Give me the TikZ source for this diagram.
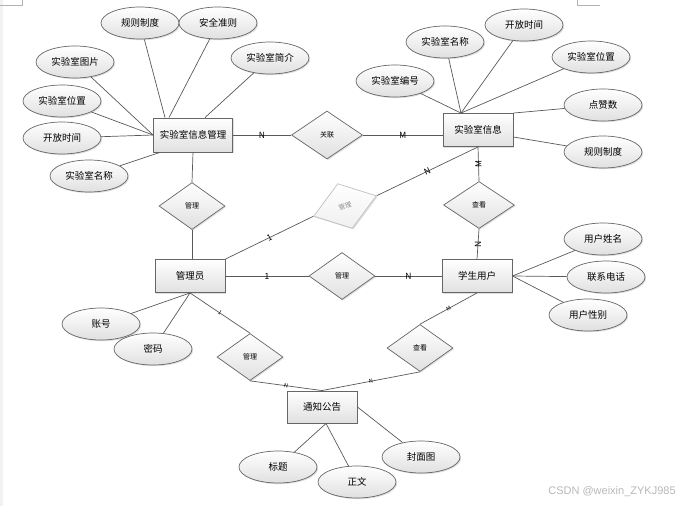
\documentclass[tikz,border=0pt]{standalone}
\usepackage{fontspec}
\setmainfont{Noto Sans CJK SC}
\newfontfamily\markfont{Liberation Sans}
\usetikzlibrary{shapes.geometric,shadows}

\begin{document}
\begin{tikzpicture}[x=1pt,y=-1pt,
        conn/.style={draw=black!65,line width=0.7pt},
        boxfill/.style={top color=white,bottom color=black!12,drop shadow={opacity=0.25,shadow xshift=1.2pt,shadow yshift=-1.2pt}},
        entity/.style={boxfill,rectangle,draw=black!60,line width=0.9pt,minimum width=70pt,minimum height=33pt,inner sep=5pt,font=\fontsize{9.5}{11}\selectfont},
        attr/.style={boxfill,ellipse,draw=black!60,line width=0.7pt,minimum width=78pt,minimum height=32pt,inner sep=0pt,font=\fontsize{9.5}{11}\selectfont},
        rel/.style={boxfill,diamond,draw=black!60,line width=0.7pt,minimum width=66pt,minimum height=47pt,inner sep=0pt,font=\fontsize{7}{8}\selectfont},
        card/.style={font=\fontsize{8.5}{9}\selectfont,inner sep=1pt},
        smallcard/.style={font=\fontsize{5.5}{6}\selectfont,inner sep=0.5pt}]
    \useasboundingbox (0,0) rectangle (692,506);
    \fill[black!5] (0,0) rectangle (3,506);
    \draw[black!30,line width=0.5pt] (0,5) -- (22,5) -- (22,0);
    \draw[black!30,line width=0.5pt] (600,5) -- (577,5) -- (577,0);

    \node[entity,minimum width=79pt,minimum height=34pt] (labmgr) at (193,135) {实验室信息管理};
    \node[entity] (labinfo) at (478,130) {实验室信息};
    \node[entity] (admin) at (190,276) {管理员};
    \node[entity] (student) at (477,276) {学生用户};
    \node[entity,minimum height=32pt] (notice) at (322,407) {通知公告};

    \node[rel,minimum width=71pt,minimum height=48pt] (assoc) at (327,135) {关联};
    \node[rel] (mgrA) at (192,206) {管理};
    \node[rel] (mgrB) at (342,276) {管理};
    \node[rel] (mgrC) at (250,357) {管理};
    \node[rel,minimum width=71pt] (viewA) at (479,205) {查看};
    \node[rel] (viewB) at (420,348) {查看};
    \node[rel,rotate=18,draw=black!25,bottom color=black!6,text=black!45,font=\fontsize{6.5}{7}\selectfont] (mgrD) at (345,206) {管理};

    \node[attr] (rule1) at (140,23) {规则制度};
    \node[attr] (safe) at (218,23) {安全准则};
    \node[attr] (intro) at (270,58) {实验室简介};
    \node[attr] (pic) at (75,62) {实验室图片};
    \node[attr] (pos1) at (62,101) {实验室位置};
    \node[attr] (time1) at (62,138) {开放时间};
    \node[attr] (name1) at (89,176) {实验室名称};

    \node[attr] (name2) at (445,42) {实验室名称};
    \node[attr] (time2) at (524,25) {开放时间};
    \node[attr] (pos2) at (591,57) {实验室位置};
    \node[attr] (num) at (395,81) {实验室编号};
    \node[attr] (likes) at (603,105) {点赞数};
    \node[attr] (rule2) at (603,152) {规则制度};

    \node[attr] (uname) at (603,239) {用户姓名};
    \node[attr] (phone) at (606,277) {联系电话};
    \node[attr] (sex) at (588,315) {用户性别};

    \node[attr] (acct) at (101,324) {账号};
    \node[attr] (pwd) at (153,349) {密码};

    \node[attr] (title) at (278,467) {标题};
    \node[attr] (body) at (357,482) {正文};
    \node[attr] (cover) at (421,457) {封面图};

    \draw[conn] (labmgr.east) -- node[card] {N} (assoc.west);
    \draw[conn] (assoc.east) -- node[card] {M} (assoc.east -| labinfo.west);
    \draw[conn] (labmgr.south) -- (mgrA.north);
    \draw[conn] (mgrA.south) -- (mgrA.south |- admin.north);
    \draw[conn] (admin.north east) -- node[card,sloped] {1} (mgrD.west);
    \draw[conn] (mgrD.east) -- node[card,sloped] {N} (labinfo.south);
    \draw[conn] (labinfo.south) -- node[card,rotate=90] {M} (viewA.north);
    \draw[conn] (viewA.south) -- node[card,rotate=90] {N} (student.north);
    \draw[conn] (admin.east) -- node[card] {1} (mgrB.west);
    \draw[conn] (mgrB.east) -- node[card] {N} (student.west);
    \draw[conn] (admin.south) -- node[smallcard,sloped] {1} (mgrC.north);
    \draw[conn] (mgrC.south) -- node[smallcard,sloped] {N} (notice.north);
    \draw[conn] (student.south) -- node[smallcard,sloped] {M} (viewB.north);
    \draw[conn] (viewB.south) -- node[smallcard,sloped] {N} (notice.north);

    \draw[conn] (rule1) -- ([xshift=-28pt]labmgr.north);
    \draw[conn] (safe) -- ([xshift=-24pt]labmgr.north);
    \draw[conn] (intro) -- ([xshift=12pt]labmgr.north);
    \draw[conn] (pic) -- (labmgr.west);
    \draw[conn] (pos1) -- (labmgr.west);
    \draw[conn] (time1) -- (labmgr.west);
    \draw[conn] (name1) -- ([xshift=-33pt]labmgr.south);

    \draw[conn] (num) -- ([xshift=-17pt]labinfo.north);
    \draw[conn] (name2) -- ([xshift=-17pt]labinfo.north);
    \draw[conn] (time2) -- ([xshift=-17pt]labinfo.north);
    \draw[conn] (pos2) -- ([xshift=-17pt]labinfo.north);
    \draw[conn] (likes) -- (labinfo.north east);
    \draw[conn] (rule2) -- ([yshift=-7pt]labinfo.east);

    \draw[conn] (uname) -- (student.east);
    \draw[conn] (phone) -- (student.east);
    \draw[conn] (sex) -- (student.east);

    \draw[conn] (acct) -- (admin.south);
    \draw[conn] (pwd) -- (admin.south);

    \draw[conn] (title) -- ([xshift=4pt]notice.south);
    \draw[conn] (body) -- ([xshift=4pt]notice.south);
    \draw[conn] (cover) -- (notice.east);

    \node[text=black!28,font=\markfont\fontsize{11}{13}\selectfont] (mark) at (612,492) {CSDN @weixin\_ZYKJ985};
\end{tikzpicture}
\end{document}
